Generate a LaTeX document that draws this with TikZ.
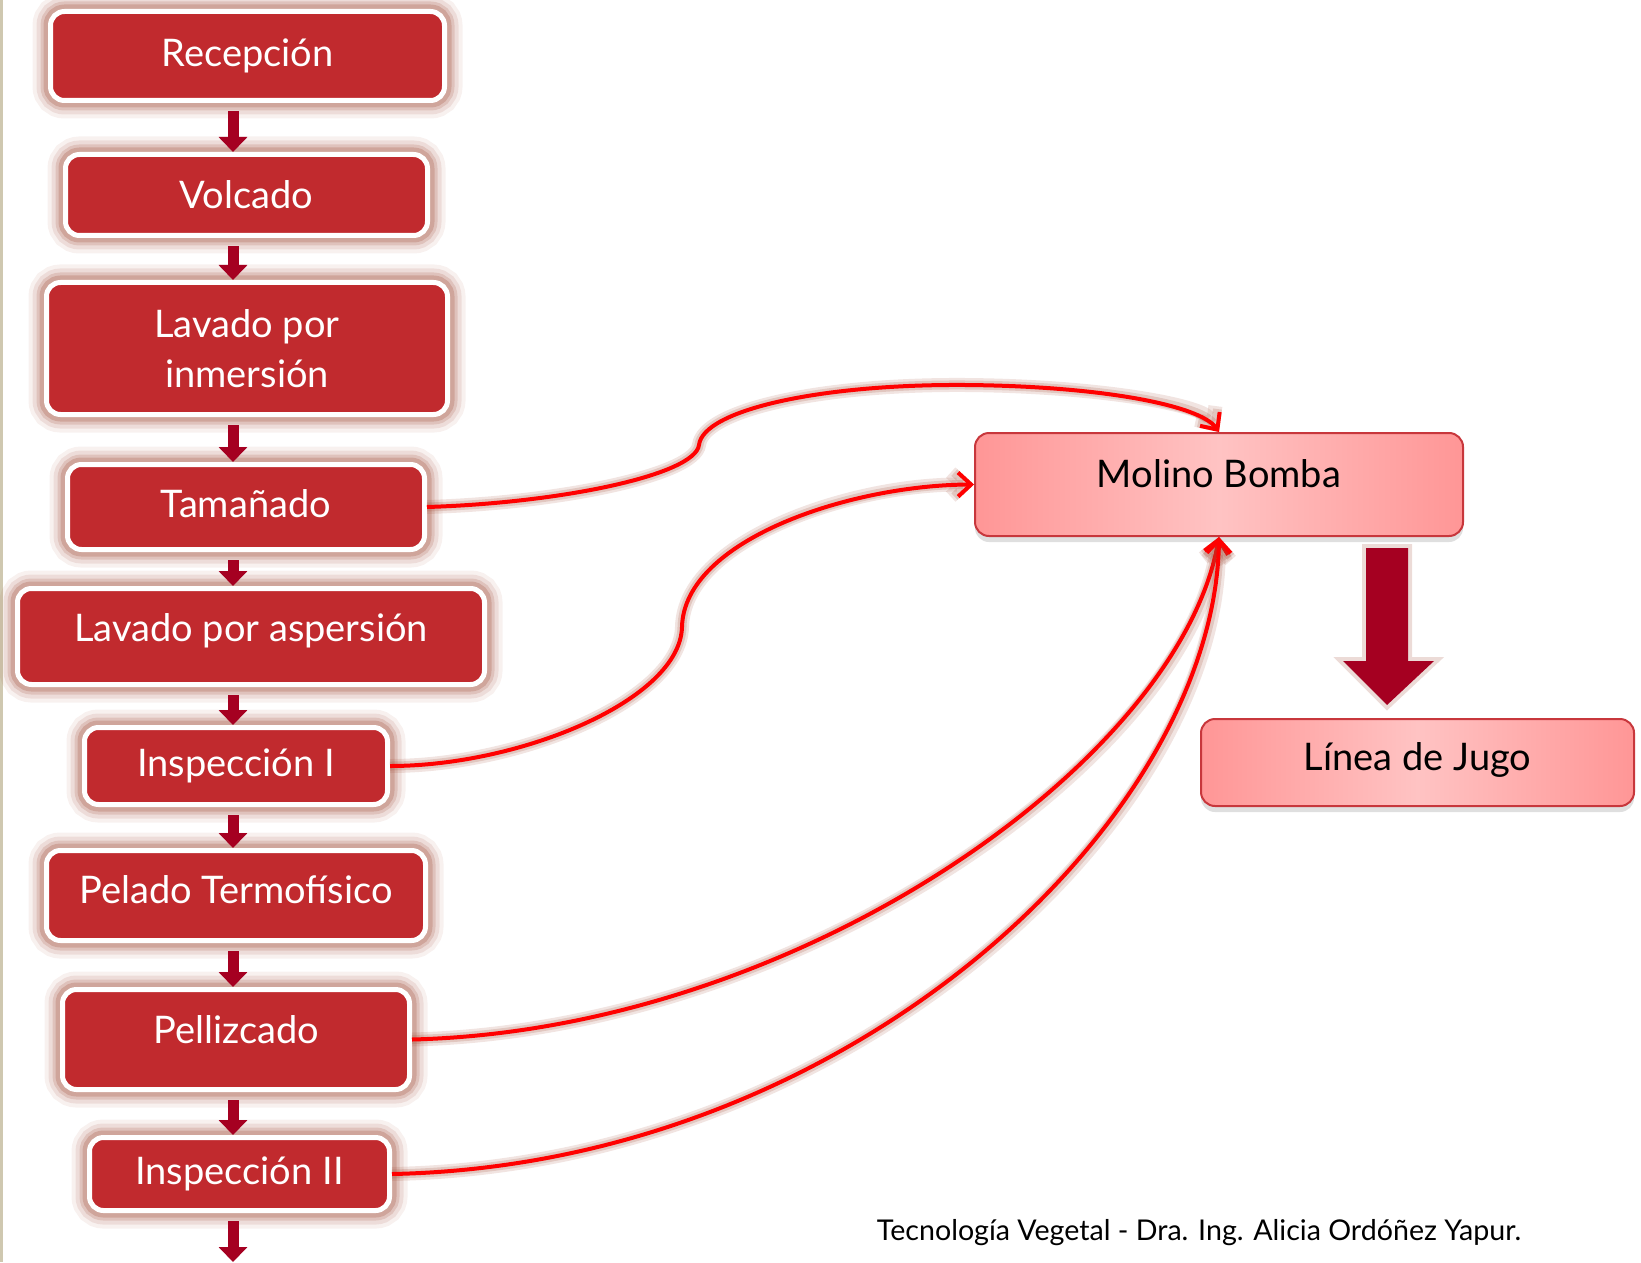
\documentclass[tikz,border=0pt]{standalone}
\usepackage{fontspec}
\setmainfont{Lato}
\usetikzlibrary{arrows.meta,calc,shadows}

\definecolor{rojoPaso}{RGB}{193,42,46}
\definecolor{guinda}{RGB}{165,0,33}
\definecolor{rosaBorde}{RGB}{200,55,60}
\definecolor{rosaA}{RGB}{255,150,150}
\definecolor{rosaB}{RGB}{255,195,195}
\definecolor{brillo}{RGB}{160,75,55}
\definecolor{margen}{RGB}{207,200,176}

\begin{document}
\begin{tikzpicture}[x=0.5pt,y=-0.5pt,
  paso/.style={rectangle,rounded corners=7pt,fill=rojoPaso,draw=white,line width=2.5pt,
    text=white,font=\fontsize{19}{25}\selectfont,inner sep=0pt,align=center,
    preaction={draw=brillo,draw opacity=0.08,line width=18pt},
    preaction={draw=brillo,draw opacity=0.12,line width=14pt},
    preaction={draw=brillo,draw opacity=0.18,line width=10pt},
    preaction={draw=brillo,draw opacity=0.25,line width=7pt}},
  destino/.style={rectangle,rounded corners=7pt,draw=rosaBorde,line width=1pt,
    left color=rosaA,right color=rosaA,middle color=rosaB,
    font=\fontsize{19}{25}\selectfont,inner sep=0pt,
    drop shadow={shadow xshift=0pt,shadow yshift=-3pt,opacity=0.25}},
  flecha/.style={draw=guinda,line width=5.5pt,shorten <=4pt,
    -{Triangle[width=14pt,length=7.5pt]}},
  retorno/.style={draw=red,line width=2pt,-{Straight Barb[length=6.5pt,width=12pt]},
    preaction={draw=brillo,draw opacity=0.15,line width=7pt},
    preaction={draw=brillo,draw opacity=0.2,line width=4.5pt}}]

 \useasboundingbox (0,0) rectangle (1641,1262);
 \fill[margen] (0,0) rectangle (3,1262);

 % etapas del proceso
 \node[paso,minimum width=197pt,minimum height=44.5pt] (rec) at (247.5,56) {Recepción};
 \node[paso,minimum width=181pt,minimum height=40.5pt] (vol) at (246.5,195) {Volcado};
 \node[paso,minimum width=200.5pt,minimum height=66pt] (inm) at (247,348.5) {Lavado por\\inmersión};
 \node[paso,minimum width=178.5pt,minimum height=42.5pt,text depth=3pt] (tam) at (246,507) {Tamañado};
 \node[paso,minimum width=233.5pt,minimum height=48pt,text depth=9pt] (asp) at (251,636.5) {Lavado por aspersión};
 \node[paso,minimum width=151.5pt,minimum height=38.5pt] (ins1) at (236,766) {Inspección I};
 \node[paso,minimum width=189.5pt,minimum height=45pt,text depth=6pt] (pel) at (236,895.5) {Pelado Termofísico};
 \node[paso,minimum width=173.5pt,minimum height=50pt,text depth=10pt] (pzc) at (236,1039.5) {Pellizcado};
 \node[paso,minimum width=150pt,minimum height=36.5pt] (ins2) at (239.5,1174) {Inspección II};

 \node[destino,minimum width=244pt,minimum height=51.5pt,text depth=11pt] (mol) at (1219,484.5) {Molino Bomba};
 \node[destino,minimum width=216.5pt,minimum height=43.5pt,text depth=6pt] (lin) at (1417.5,762.5) {Línea de Jugo};

 \node (pie) at (1199,1233) {\fontsize{14.3}{16}\selectfont Tecnología Vegetal - Dra. Ing. Alicia Ordóñez Yapur.};

 \coordinate (ax) at (233,0);
 \coordinate (bx) at (1387,0);
 \coordinate (fin) at (233,1262);

 % flechas de la linea principal
 \draw[flecha] (rec.south -| ax) -- (vol.north -| ax);
 \draw[flecha] (vol.south -| ax) -- (inm.north -| ax);
 \draw[flecha] (inm.south -| ax) -- (tam.north -| ax);
 \draw[flecha] (tam.south -| ax) -- (asp.north -| ax);
 \draw[flecha] (asp.south -| ax) -- (ins1.north -| ax);
 \draw[flecha] (ins1.south -| ax) -- (pel.north -| ax);
 \draw[flecha] (pel.south -| ax) -- (pzc.north -| ax);
 \draw[flecha] (pzc.south -| ax) -- (ins2.north -| ax);
 \draw[flecha] (ins2.south -| ax) -- (fin);

 % descartes al molino
 \draw[retorno] (tam.east) .. controls (560,503) and (695,475) .. (699,445)
    .. controls (703,410) and (820,384) .. (965,385)
    .. controls (1100,386) and (1200,405) .. (mol.north);
 \draw[retorno] (ins1.east) .. controls (520,766) and (680,700) .. (682,627)
    .. controls (684,540) and (850,485) .. (mol.west);
 \draw[retorno] (pzc.east) .. controls (800,1030) and (1180,760) .. (mol.south);
 \draw[retorno] (ins2.east) .. controls (850,1165) and (1215,820) .. (mol.south);

 % flecha gruesa
 \fill[guinda,preaction={draw=brillo,draw opacity=0.2,line width=4pt}]
    ($(mol.south -| bx)+(-21,11)$) -- ($(mol.south -| bx)+(21,11)$)
    -- ($(mol.south -| bx)+(21,124)$) -- ($(mol.south -| bx)+(47,124)$)
    -- ($(lin.north -| bx)+(0,-13)$) -- ($(mol.south -| bx)+(-44,124)$)
    -- ($(mol.south -| bx)+(-21,124)$) -- cycle;

\end{tikzpicture}
\end{document}
